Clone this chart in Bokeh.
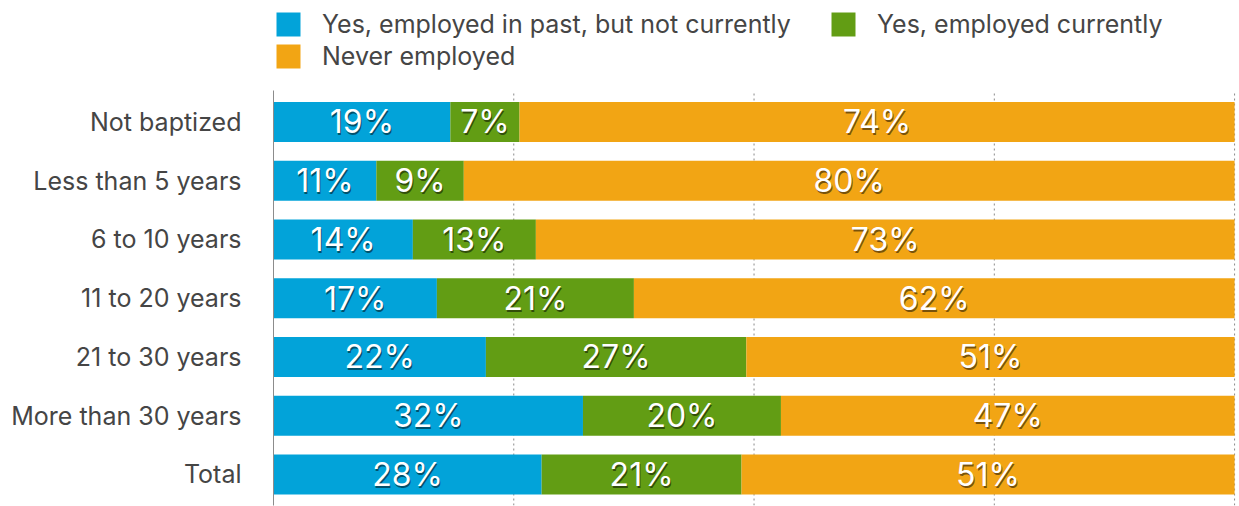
from bokeh.plotting import figure
from bokeh.models import Range1d, FixedTicker, Legend, LegendItem, ColumnDataSource
from bokeh.core.properties import value
from bokeh.embed import file_html
from bokeh.resources import INLINE

categories = ["Not baptized", "Less than 5 years", "6 to 10 years", "11 to 20 years",
              "21 to 30 years", "More than 30 years", "Total"]
series_names = ["Yes, employed in past, but not currently", "Yes, employed currently", "Never employed"]
past = [18.4, 10.7, 14.5, 17.0, 22.1, 32.2, 27.9]
current = [7.2, 9.1, 12.8, 20.5, 27.1, 20.6, 20.8]
never = [74.4, 80.2, 72.7, 62.5, 50.8, 47.2, 51.3]
past_labels = ["19%", "11%", "14%", "17%", "22%", "32%", "28%"]
current_labels = ["7%", "9%", "13%", "21%", "27%", "20%", "21%"]
never_labels = ["74%", "80%", "73%", "62%", "51%", "47%", "51%"]
grid_ticks = [25, 50, 75, 100]
colors = ["#02A3D9", "#629D14", "#F2A514"]

FONT = "Inter"
n = len(categories)
ypos = [n - 1 - i for i in range(n)]

Y_BOTTOM, Y_TOP, CHART_TOP = -0.528, 8.068, 6.536

p = figure(width=1236, height=506, output_backend="svg", toolbar_location=None,
           x_range=Range1d(0, 100.2), y_range=Range1d(Y_BOTTOM, Y_TOP),
           min_border_left=273, min_border_right=0, min_border_top=0, min_border_bottom=1)
p.outline_line_color = None
p.background_fill_color = "white"
p.border_fill_color = "white"

p.xaxis.visible = False
p.xgrid.visible = False
p.ygrid.visible = False

# dotted vertical gridlines limited to the bar area
p.segment(x0=grid_ticks, y0=[Y_BOTTOM] * len(grid_ticks), x1=grid_ticks,
          y1=[CHART_TOP] * len(grid_ticks), line_color="#8a8a8a", line_dash="2 3", line_width=1)

p.yaxis.ticker = FixedTicker(ticks=ypos)
p.yaxis.major_label_overrides = {y: c for y, c in zip(ypos, categories)}
p.yaxis.bounds = (Y_BOTTOM, CHART_TOP)
p.yaxis.axis_line_color = "#8c8c8c"
p.yaxis.major_tick_line_color = None
p.yaxis.minor_tick_line_color = None
p.yaxis.major_tick_out = 0
p.yaxis.major_label_standoff = 32
p.yaxis.major_label_text_font = FONT
p.yaxis.major_label_text_font_size = "25px"
p.yaxis.major_label_text_color = "#454545"

renderers = []
left = [0.0] * n
for vals, labs, col in zip([past, current, never], [past_labels, current_labels, never_labels], colors):
    right = [l + v for l, v in zip(left, vals)]
    mid = [(l + r) / 2 for l, r in zip(left, right)]
    src = ColumnDataSource(dict(y=ypos, left=left, right=right, mid=mid, lab=labs))
    r = p.hbar(y="y", left="left", right="right", height=0.68, fill_color=col,
               line_color=None, source=src)
    renderers.append(r)
    p.text(x="mid", y="y", text="lab", source=src, text_font=value(FONT),
           text_font_size="32px", text_color="black", text_alpha=0.5,
           text_align="center", text_baseline="middle", x_offset=1, y_offset=2)
    p.text(x="mid", y="y", text="lab", source=src, text_font=value(FONT),
           text_font_size="32px", text_color="white",
           text_align="center", text_baseline="middle")
    left = right

legend = Legend(items=[LegendItem(label=nm, renderers=[r]) for nm, r in zip(series_names, renderers)],
                orientation="horizontal", ncols=2, spacing=2, padding=0, margin=0,
                location=(0, 434), border_line_color=None, background_fill_alpha=0,
                glyph_width=30, glyph_height=30, label_standoff=19, label_width=504,
                label_text_font=FONT, label_text_font_size="25px", label_text_color="#454545",
                label_height=30, label_text_baseline="middle")
p.add_layout(legend)

open("out.html", "w").write(file_html(p, INLINE))
